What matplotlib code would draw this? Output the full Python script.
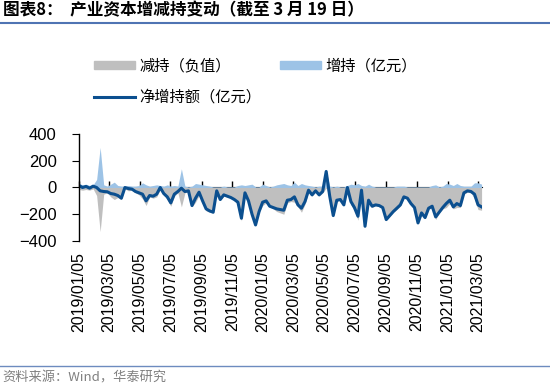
import pandas as pd
import matplotlib.pyplot as plt
import matplotlib.dates as mdates
from matplotlib.lines import Line2D
from matplotlib.patches import Patch
from datetime import datetime

# 周度数据，2019/01/05 起
start_date = '2019-01-05'

# 增持（亿元）
increase = [30, 20, 25, 15, 20, 60, 300, 20, 10, 25, 40, 15, 10, 10, 15, 10, 10, 15, 35, 20,
            10, 15, 20, 15, 10, 20, 10, 15, 10, 140, 10, 5, 10, 30, 25, 20, 15, 10, 5, 5,
            5, 10, 5, 5, 5, 15, 20, 15, 20, 25, 5, 5, 25, 15, 5, 10, 20, 25, 30, 20,
            15, 40, 15, 30, 20, 15, 10, 5, 10, 10, 125, 10, 5, 10, 5, 5, 15, 25, 20, 30,
            15, 10, 25, 10, 5, 5, 5, 5, 5, 5, 10, 10, 10, 5, 5, 5, 5, 5, 5, 5,
            15, 20, 5, 10, 30, 25, 15, 30, 15, 10, 10, 10, 35, 35, 25]

# 减持（负值）
decrease = [-15, -20, -15, -20, -10, -60, -330, -50, -40, -70, -90, -75, -90, -10, -25, -20, -40, -55, -85, -135,
            -70, -80, -70, -15, -55, -90, -140, -65, -40, -145, -40, -30, -145, -110, -60, -120, -175, -185, -190, -30,
            -95, -65, -70, -80, -95, -125, -250, -55, -120, -225, -285, -185, -135, -115, -145, -160, -180, -190, -200, -115,
            -105, -110, -145, -185, -125, -35, -65, -30, -65, -40, -5, -75, -215, -105, -95, -135, -15, -130, -170, -245,
            -35, -300, -120, -150, -135, -140, -155, -245, -215, -185, -165, -140, -80, -85, -125, -155, -270, -195, -230, -160,
            -155, -240, -190, -160, -150, -120, -160, -150, -150, -50, -35, -40, -85, -165, -170]

# 净增持额（亿元）
net = [15, 0, 8, -5, 10, 0, -25, -30, -32, -45, -50, -60, -80, 0, -8, -12, -30, -40, -50, -100,
       -60, -65, -50, 0, -45, -70, -115, -50, -30, -5, -30, -25, -135, -80, -35, -100, -160, -175, -185, -25,
       -90, -55, -65, -75, -90, -110, -230, -40, -100, -200, -280, -180, -110, -100, -140, -150, -160, -165, -170, -95,
       -90, -70, -130, -155, -105, -20, -55, -25, -55, -30, 120, -65, -210, -95, -90, -130, 0, -105, -150, -215,
       -20, -290, -95, -140, -130, -135, -150, -240, -210, -180, -155, -130, -70, -80, -120, -150, -265, -190, -225, -155,
       -140, -220, -185, -150, -120, -95, -145, -120, -135, -40, -25, -30, -50, -130, -145]

labels = ['减持（负值）', '增持（亿元）', '净增持额（亿元）']

c_dec = '#bfbfbf'
c_inc = '#9dc3e6'
c_net = '#0b4f8f'

plt.rcParams['font.family'] = ['Liberation Sans', 'Noto Sans CJK SC']

dates = pd.date_range(start_date, periods=len(net), freq='7D')

fig = plt.figure(figsize=(5.5, 3.89), dpi=100)
ax = fig.add_axes([0.1436, 0.3805, 0.732, 0.275])

ax.fill_between(dates, decrease, 0, color=c_dec, lw=0)
ax.fill_between(dates, 0, increase, color=c_inc, lw=0)
ax.plot(dates, net, color=c_net, lw=2.2)

ax.set_ylim(-400, 400)
ax.set_yticks([-400, -200, 0, 200, 400])
ax.set_xlim(dates[0], dates[-1])
ticks = [datetime(2019 + (m - 1) // 12, (m - 1) % 12 + 1, 5) for m in range(1, 28, 2)]
ax.set_xticks(ticks)
ax.xaxis.set_major_formatter(mdates.DateFormatter('%Y/%m/%d'))
ax.tick_params(axis='x', rotation=90, length=0, pad=8, labelsize=11.5)
ax.tick_params(axis='y', direction='out', length=5, pad=11, labelsize=12)
for s in ['top', 'right', 'bottom']:
    ax.spines[s].set_visible(False)
ax.spines['left'].set_linewidth(1)

# 零轴带刻度
zero_ax = ax.secondary_xaxis(0.5)
zero_ax.set_xticks(ticks, labels=[''] * len(ticks))
zero_ax.tick_params(direction='out', length=4, width=1)
zero_ax.spines['bottom'].set_linewidth(1.2)

handles = [Patch(color=c_dec), Line2D([], [], color=c_net, lw=2.2), Patch(color=c_inc)]
fig.legend(handles, [labels[0], labels[2], labels[1]], ncol=2, loc='upper left',
           bbox_to_anchor=(0.145, 0.885), frameon=False, fontsize=11,
           handlelength=2.7, handleheight=0.4, columnspacing=1.2, labelspacing=1.1,
           handletextpad=0.3)

# 标题与来源
fig.text(0.005, 0.973, '图表8：  产业资本增减持变动（截至 3 月 19 日）', fontsize=12,
         fontweight='bold', va='center', family=['Noto Sans CJK SC'])
fig.add_artist(Line2D([0, 1], [1 - 22.5 / 389, 1 - 22.5 / 389], color='#4f74b3', lw=1.5))
fig.add_artist(Line2D([0, 1], [1 - 366 / 389, 1 - 366 / 389], color='#6d8bbf', lw=1))
fig.text(0.005, 1 - 378 / 389, '资料来源：Wind，华泰研究', fontsize=9.5, color='#808080',
         va='center', family=['Noto Sans CJK SC', 'Liberation Sans'])

fig.savefig('out.png', dpi=100)
